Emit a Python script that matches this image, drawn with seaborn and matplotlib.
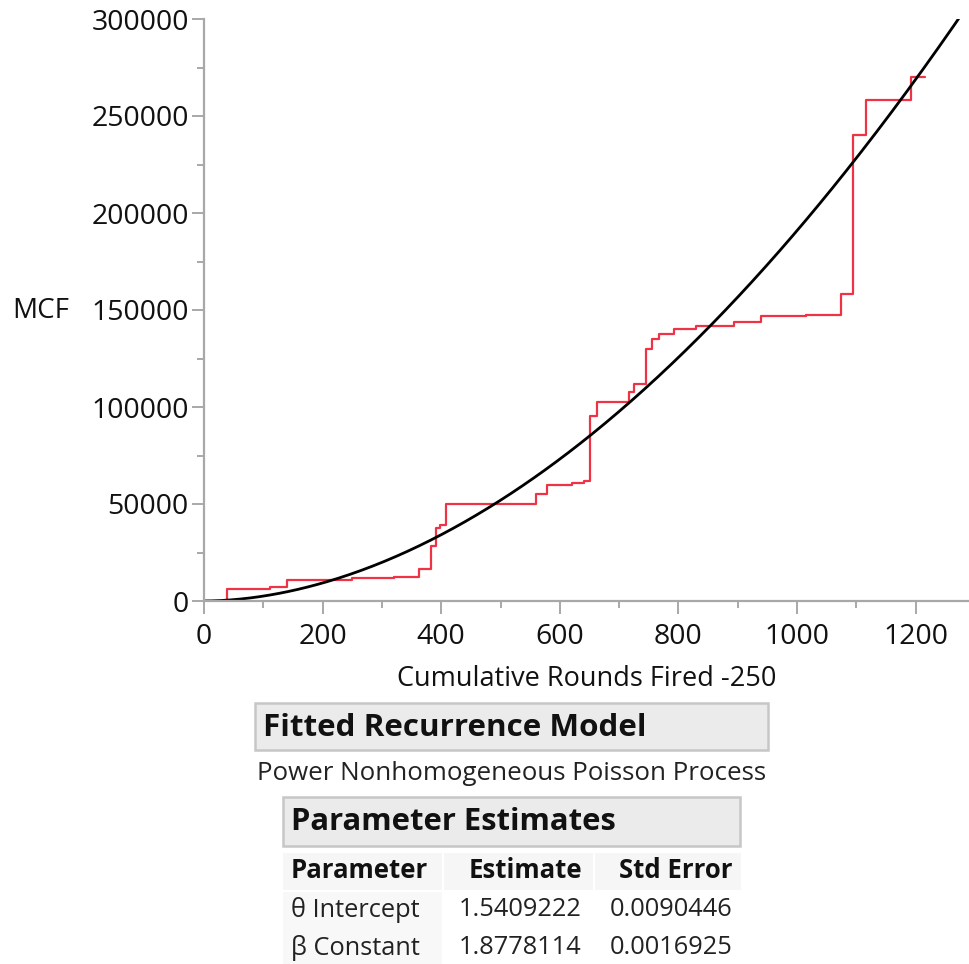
import numpy as np
import pandas as pd
import matplotlib
matplotlib.use("Agg")
import matplotlib.pyplot as plt
import seaborn as sns
from matplotlib.patches import Rectangle
from matplotlib.ticker import MultipleLocator

# ---- data ----
event_rounds = [0, 38, 111, 140, 250, 320, 363, 383, 392, 398, 408, 560, 578, 620,
                640, 651, 662, 717, 725, 745, 755, 767, 792, 830, 894, 939, 1015,
                1075, 1094, 1117, 1193, 1215]
mcf_values = [0, 6200, 7400, 11000, 11800, 12500, 16300, 28500, 37500, 39000, 50200,
              55000, 60000, 60800, 62000, 95500, 102400, 107600, 111700, 129700,
              135000, 137600, 140400, 141800, 143600, 147000, 147600, 158000,
              240000, 258000, 270000, 270000]

theta_intercept = 1.5409222
beta_constant = 1.8778114

x_ticks = [0, 200, 400, 600, 800, 1000, 1200]
y_ticks = [0, 50000, 100000, 150000, 200000, 250000, 300000]

table_params = ["θ Intercept", "β Constant"]
table_estimates = ["1.5409222", "1.8778114"]
table_stderr = ["0.0090446", "0.0016925"]

# ---- styling ----
sns.set_theme(style="ticks")
plt.rcParams['font.family'] = ['Open Sans', 'Noto Sans', 'DejaVu Sans']
W, H = 969, 964
fig = plt.figure(figsize=(W / 100, H / 100), dpi=100)

ax_left, ax_right, ax_top, ax_bottom = 204, 969, 19, 601
ax = fig.add_axes([ax_left / W, 1 - ax_bottom / H, (ax_right - ax_left) / W,
                   (ax_bottom - ax_top) / H])

step_df = pd.DataFrame({"rounds": event_rounds, "mcf": mcf_values})
sns.lineplot(data=step_df, x="rounds", y="mcf", ax=ax, color="#EE3347",
             linewidth=1.6, drawstyle="steps-post", estimator=None, sort=False)

t_grid = np.linspace(0, 1290, 400)
fit_df = pd.DataFrame({"rounds": t_grid,
                       "mcf": (t_grid / theta_intercept) ** beta_constant})
sns.lineplot(data=fit_df, x="rounds", y="mcf", ax=ax, color="black",
             linewidth=2.0, estimator=None, sort=False)

ax.set_xlim(0, 1290)
ax.set_ylim(0, 300000)
ax.set_xticks(x_ticks)
ax.set_yticks(y_ticks)
ax.set_xticklabels([str(v) for v in x_ticks])
ax.set_yticklabels([str(v) for v in y_ticks])
ax.xaxis.set_minor_locator(MultipleLocator(100))
ax.yaxis.set_minor_locator(MultipleLocator(25000))

gray = "#a8a8a8"
for s in ["top", "right"]:
    ax.spines[s].set_visible(False)
for s in ["left", "bottom"]:
    ax.spines[s].set_color(gray)
    ax.spines[s].set_linewidth(1.6)
ax.tick_params(which="major", length=9, width=1.4, color=gray, labelsize=20.5,
               labelcolor="#111111")
ax.tick_params(axis="x", which="major", pad=7)
ax.tick_params(axis="y", which="major", pad=2)
ax.tick_params(which="minor", length=5, width=1.4, color=gray)
ax.set_xlabel("Cumulative Rounds Fired -250", fontsize=19.5, color="#111111",
              labelpad=10)
ax.set_ylabel("")
fig.text(12 / W, 1 - 311 / H, "MCF", fontsize=20, color="#111111",
         ha="left", va="center")

# ---- report panel beneath the chart ----
ov = fig.add_axes([0, 0, 1, 1])
ov.set_xlim(0, W)
ov.set_ylim(H, 0)
ov.axis("off")
ov.patch.set_alpha(0)

ov.add_patch(Rectangle((255, 703), 513, 47, facecolor="#ebebeb",
                       edgecolor="#c6c6c6", linewidth=1.8))
ov.text(263, 728, "Fitted Recurrence Model", fontsize=22.6, fontweight="bold",
        ha="left", va="center", color="#111111")
ov.text(257, 774, "Power Nonhomogeneous Poisson Process", fontsize=18.6,
        ha="left", va="center", color="#222222")
ov.add_patch(Rectangle((283, 797), 457, 49, facecolor="#ebebeb",
                       edgecolor="#c6c6c6", linewidth=1.8))
ov.text(291, 822, "Parameter Estimates", fontsize=22.3, fontweight="bold",
        ha="left", va="center", color="#111111")

# table cell backgrounds
for (x0, x1) in [(283, 442), (444, 593), (595, 741)]:
    ov.add_patch(Rectangle((x0, 853), x1 - x0, 37, facecolor="#f6f6f6",
                           edgecolor="none"))
ov.add_patch(Rectangle((283, 892), 159, 72, facecolor="#f8f8f8", edgecolor="none"))

ov.text(291, 870, "Parameter", fontsize=18.5, fontweight="bold", ha="left",
        va="center", color="#111111")
ov.text(582, 870, "Estimate", fontsize=18.5, fontweight="bold", ha="right",
        va="center", color="#111111")
ov.text(733, 870, "Std Error", fontsize=18.5, fontweight="bold", ha="right",
        va="center", color="#111111")
row_y = [910, 948]
for yy, p, e, s in zip(row_y, table_params, table_estimates, table_stderr):
    ov.text(291, yy, p, fontsize=18.3, ha="left", va="center", color="#222222")
    ov.text(582, yy, e, fontsize=18.3, ha="right", va="center", color="#222222")
    ov.text(733, yy, s, fontsize=18.3, ha="right", va="center", color="#222222")

fig.savefig("out.png", dpi=100, facecolor="white")
